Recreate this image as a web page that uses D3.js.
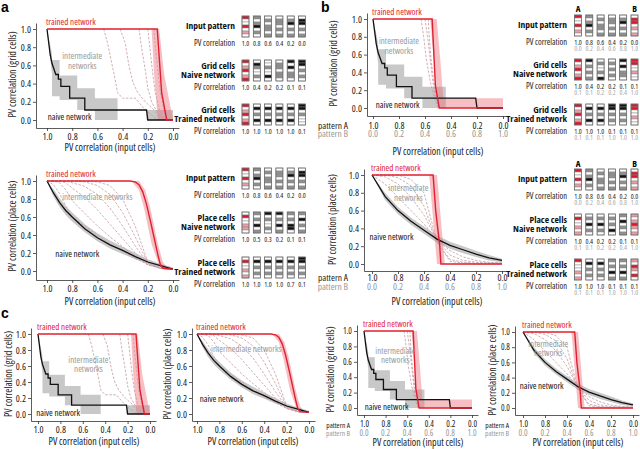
<!DOCTYPE html>
<html><head><meta charset="utf-8">
<script src="https://cdn.jsdelivr.net/npm/d3@7"></script>
<style>
body{margin:0;background:#fff}
svg{display:block;font-family:"Open Sans",sans-serif;font-stretch:75%}
</style></head><body>
<svg id="fig" width="640" height="449"></svg>
<script>
var xTicks = [1.0, 0.8, 0.6, 0.4, 0.2, 0.0];
var yTicks = [0.0, 0.2, 0.4, 0.6, 0.8, 1.0];
var patternBTicks = [0.0, 0.2, 0.4, 0.6, 0.8, 1.0];

// grid cells, naive network (steps) and its shaded range
var gridNaiveX = [1.0, 0.975, 0.96, 0.93, 0.91, 0.91, 0.89, 0.89, 0.82, 0.82, 0.70, 0.70, 0.21, 0.20, 0.0];
var gridNaiveY = [1.0, 0.72, 0.62, 0.50, 0.50, 0.45, 0.45, 0.37, 0.37, 0.24, 0.24, 0.11, 0.11, 0.0, 0.0];
var gridBandX  = [1.0, 0.97, 0.96, 0.96, 0.90, 0.90, 0.76, 0.76, 0.62, 0.62, 0.44, 0.44, 0.21, 0.21, 0.0];
var gridBandLo = [1.0, 0.62, 0.50, 0.26, 0.26, 0.22, 0.22, 0.11, 0.11, 0.0, 0.0, 0.11, 0.11, 0.0, 0.0];
var gridBandHi = [1.0, 0.80, 0.72, 0.66, 0.66, 0.49, 0.49, 0.35, 0.35, 0.24, 0.24, 0.11, 0.11, 0.11, 0.11];

// grid cells, trained network (a)
var gridTrainedX = [1.0, 0.125, 0.09, 0.05, 0.0];
var gridTrainedY = [1.0, 1.0, 0.3, 0.0, 0.0];
var gridTrainedBandY = [1.0, 0.5, 0.0];
var gridTrainedBandL = [0.17, 0.15, 0.12];
var gridTrainedBandR = [0.11, 0.07, 0.0];
// intermediate networks (a, grid)
var gridInterX = [
  [0.55, 0.52, 0.49, 0.46, 0.44, 0.40, 0.30, 0.22, 0.12],
  [0.42, 0.38, 0.35, 0.32, 0.28, 0.22, 0.15, 0.10],
  [0.27, 0.25, 0.22, 0.20, 0.17, 0.13, 0.08],
  [0.20, 0.18, 0.16, 0.14, 0.11, 0.07],
  [0.15, 0.14, 0.12, 0.10, 0.07, 0.04]];
var gridInterY = [
  [1.0, 0.85, 0.65, 0.45, 0.30, 0.24, 0.24, 0.11, 0.0],
  [1.0, 0.85, 0.60, 0.42, 0.30, 0.20, 0.11, 0.0],
  [1.0, 0.80, 0.55, 0.35, 0.20, 0.10, 0.0],
  [1.0, 0.75, 0.50, 0.30, 0.12, 0.0],
  [1.0, 0.80, 0.55, 0.30, 0.10, 0.0]];

// place cells (a)
var placeX = [1.0, 0.95, 0.9, 0.85, 0.8, 0.7, 0.6, 0.5, 0.4, 0.3, 0.2, 0.1, 0.0];
var placeNaiveY = [1.0, 0.87, 0.76, 0.67, 0.60, 0.47, 0.37, 0.29, 0.23, 0.16, 0.10, 0.06, 0.02];
var placeBandLo = [1.0, 0.83, 0.71, 0.62, 0.55, 0.43, 0.33, 0.25, 0.19, 0.13, 0.08, 0.04, 0.01];
var placeBandHi = [1.0, 0.91, 0.81, 0.72, 0.65, 0.52, 0.42, 0.34, 0.27, 0.20, 0.13, 0.08, 0.04];
var placeTrainedX = [1.0, 0.34, 0.30, 0.27, 0.24, 0.21, 0.18, 0.15, 0.12, 0.10, 0.08, 0.0];
var placeTrainedY = [1.0, 1.0, 0.99, 0.96, 0.88, 0.74, 0.56, 0.37, 0.18, 0.07, 0.03, 0.02];
var placeTrainedBandY = [1.0, 0.9, 0.7, 0.5, 0.3, 0.1, 0.02];
var placeTrainedBandL = [0.33, 0.27, 0.23, 0.20, 0.17, 0.12, 0.09];
var placeTrainedBandR = [0.27, 0.22, 0.18, 0.15, 0.12, 0.08, 0.04];
var placeInterY = [
  [1.0, 0.96, 0.86, 0.72, 0.60, 0.50, 0.40, 0.30, 0.22, 0.14, 0.07, 0.03, 0.02],
  [1.0, 1.0, 0.98, 0.90, 0.78, 0.64, 0.50, 0.38, 0.27, 0.16, 0.07, 0.03, 0.02],
  [1.0, 1.0, 1.0, 0.98, 0.92, 0.82, 0.68, 0.52, 0.36, 0.20, 0.07, 0.03, 0.02],
  [1.0, 1.0, 1.0, 1.0, 0.98, 0.94, 0.85, 0.70, 0.50, 0.28, 0.08, 0.03, 0.02],
  [1.0, 1.0, 1.0, 1.0, 1.0, 0.99, 0.95, 0.85, 0.65, 0.38, 0.09, 0.03, 0.02],
  [1.0, 1.0, 1.0, 1.0, 1.0, 1.0, 0.99, 0.95, 0.80, 0.50, 0.10, 0.03, 0.02]];

// pattern A -> B morph (b)
var gridBBandX  = [1.0, 0.97, 0.96, 0.96, 0.90, 0.90, 0.76, 0.76, 0.62, 0.62, 0.44, 0.44, 0.0];
var gridBBandLo = [1.0, 0.62, 0.50, 0.26, 0.26, 0.22, 0.22, 0.11, 0.11, 0.0, 0.0, 0.11, 0.11];
var gridBBandHi = [1.0, 0.80, 0.72, 0.66, 0.66, 0.49, 0.49, 0.35, 0.35, 0.24, 0.24, 0.11, 0.11];
var gridBTrainedX = [1.0, 0.545, 0.52, 0.49, 0.0];
var gridBTrainedY = [1.0, 1.0, 0.25, 0.0, 0.0];
var gridBTrainedBandY = [1.0, 0.5, 0.11, 0.11, 0.0];
var gridBTrainedBandL = [0.56, 0.53, 0.51, 0.51, 0.50];
var gridBTrainedBandR = [0.51, 0.48, 0.46, 0.0, 0.0];
var gridBInterX = [
  [0.63, 0.61, 0.59, 0.56, 0.53, 0.50],
  [0.60, 0.58, 0.56, 0.54, 0.52, 0.49],
  [0.575, 0.565, 0.55, 0.53, 0.51, 0.49]];
var gridBInterY = [
  [1.0, 0.80, 0.55, 0.30, 0.12, 0.0],
  [1.0, 0.80, 0.55, 0.30, 0.12, 0.0],
  [1.0, 0.75, 0.50, 0.28, 0.10, 0.0]];

var placeBX = [1.0, 0.9, 0.8, 0.7, 0.6, 0.5, 0.4, 0.3, 0.2, 0.1, 0.0];
var placeBNaiveY = [1.0, 0.76, 0.60, 0.48, 0.38, 0.28, 0.21, 0.16, 0.11, 0.07, 0.04];
var placeBBandLo = [1.0, 0.72, 0.56, 0.44, 0.34, 0.24, 0.17, 0.12, 0.08, 0.04, 0.02];
var placeBBandHi = [1.0, 0.80, 0.64, 0.52, 0.42, 0.32, 0.25, 0.20, 0.15, 0.10, 0.06];
var placeBTrainedX = [1.0, 0.53, 0.51, 0.48, 0.47, 0.0];
var placeBTrainedY = [1.0, 1.0, 0.6, 0.22, 0.0, 0.0];
var placeBTrainedBandY = [1.0, 0.5, 0.0];
var placeBTrainedBandL = [0.56, 0.53, 0.50];
var placeBTrainedBandR = [0.50, 0.47, 0.44];
var placeBInterY = [
  [1.0, 0.90, 0.75, 0.60, 0.45, 0.27, 0.15, 0.08, 0.04, 0.02, 0.01],
  [1.0, 0.98, 0.90, 0.75, 0.55, 0.27, 0.10, 0.04, 0.02, 0.01, 0.01],
  [1.0, 1.0, 0.97, 0.88, 0.65, 0.25, 0.05, 0.02, 0.01, 0.01, 0.01],
  [1.0, 1.0, 1.0, 0.95, 0.80, 0.25, 0.03, 0.01, 0.0, 0.0, 0.0]];

// activity patterns (r red, p pink, w white, g grey, k black) and PV values
var inputA = ["rwwrwpw","gwgkwgw","wgwggwg","wggwgwg","wgkwgwg","wkkwgwg"];
var gridNaiveBarsA = ["rwprwpr","wkgwwgw","wwgwwkw","wggwggw","kwkwggw","kkwgwgw"];
var gridTrainedBarsA = ["rwprwpr","wkwgwkw","wkwgwkw","wkwgwkw","wkwgwkw","kkwgwww"];
var placeNaiveBarsA = ["wrwwppw","gwgwkwg","kwgwwgw","kwgwkwg","gwgwkkw","gwkwgwg"];
var placeTrainedBarsA = ["wrwwpwp","wkwgwgw","wkwgwgw","wkwgwgw","wkwgwgw","kkwgwgw"];
var inputB = ["rwwrwpw","gwgkwgw","wgwggwg","wggwgwg","wgkwgwg","wrrwpwp"];
var gridNaiveBarsB = ["rwprwpr","kwgwgwg","wgwwgwk","wgwgwgw","kwkwggw","rrwwpww"];
var gridTrainedBarsB = ["rwprwpr","wkwgwkw","wkwgwkw","kkwgwgw","kkwgwgw","rrwwpww"];
var placeNaiveBarsB = ["wrwwpwp","wgwkwgw","wgwkwgw","wgwgwkw","gwkwgwg","pwprpwp"];
var placeTrainedBarsB = ["rwwwpwp","wkwgwgw","wkwgwgw","gwgwkwg","gwgwkwg","pwrpwrw"];

var inputPV = [1.0, 0.8, 0.6, 0.4, 0.2, 0.0];
var inputPVB = [0.0, 0.2, 0.4, 0.6, 0.8, 1.0];
var gridNaivePV = [1.0, 0.4, 0.2, 0.2, 0.1, 0.1];
var gridTrainedPV = [1.0, 1.0, 1.0, 1.0, 1.0, 0.1];
var placeNaivePV = [1.0, 0.5, 0.3, 0.2, 0.1, 0.1];
var placeTrainedPV = [1.0, 1.0, 1.0, 1.0, 0.7, 0.1];
var naivePVA = [1.0, 0.4, 0.2, 0.2, 0.1, 0.1];
var naivePVB = [0.1, 0.1, 0.2, 0.2, 0.4, 1.0];
var trainedPVA = [1.0, 1.0, 1.0, 0.1, 0.1, 0.1];
var trainedPVB = [0.1, 0.1, 0.1, 1.0, 1.0, 1.0];

var red = "#e0202e";
var cellColor = {r: "#d7192b", p: "#ef9aa4", w: "#fff", g: "#8f8f8f", k: "#111"};
var svg = d3.select("#fig");
var f1 = d3.format(".1f");

function zip(a, b) { return a.map(function(v, i) { return [v, b[i]]; }); }

function drawChart(s) {
  var x = d3.scaleLinear().domain([1, 0]).range([s.x0, s.x1]);
  var y = d3.scaleLinear().domain([0, 1]).range([s.yB, s.yT]);
  var g = svg.append("g");
  var line = d3.line().x(function(d) { return x(d[0]); }).y(function(d) { return y(d[1]); });
  var band = d3.area().x(function(d) { return x(d[0]); })
    .y0(function(d) { return y(d[1]); }).y1(function(d) { return y(d[2]); });
  var vband = d3.area().y(function(d) { return y(d[0]); })
    .x0(function(d) { return x(d[1]); }).x1(function(d) { return x(d[2]); });

  g.append("path").datum(s.bx.map(function(v, i) { return [v, s.blo[i], s.bhi[i]]; }))
    .attr("d", band).attr("fill", "#c8c8c8");
  g.append("path").datum(s.ty.map(function(v, i) { return [v, s.tl[i], s.tr[i]]; }))
    .attr("d", vband).attr("fill", "#ee6f7c").attr("opacity", 0.45);
  s.iy.forEach(function(ys, k) {
    var xs = s.ix[k] || s.ix[0];
    g.append("path").datum(zip(xs, ys)).attr("d", line)
      .attr("fill", "none").attr("stroke", "#c49aa2").attr("stroke-width", 0.8)
      .attr("stroke-dasharray", "2.5,1.5");
  });
  g.append("path").datum(zip(s.nx, s.ny)).attr("d", line)
    .attr("fill", "none").attr("stroke", "#111").attr("stroke-width", 1.3);
  g.append("path").datum(zip(s.tx, s.tyy)).attr("d", line)
    .attr("fill", "none").attr("stroke", red).attr("stroke-width", 1.4);

  // axes (offset spines meeting at the corner)
  var xa = d3.scaleLinear().domain([x.invert(s.axX), x.invert(s.x1 + 6)]).range([s.axX, s.x1 + 6]);
  var ya = d3.scaleLinear().domain([y.invert(s.axY), y.invert(s.yT - 6)]).range([s.axY, s.yT - 6]);
  var gx = g.append("g").attr("transform", "translate(0," + s.axY + ")")
    .call(d3.axisBottom(xa).tickValues(xTicks).tickSize(3).tickSizeOuter(0)
      .tickPadding(s.tp === undefined ? 2 : s.tp).tickFormat(f1));
  var gy = g.append("g").attr("transform", "translate(" + s.axX + ",0)")
    .call(d3.axisLeft(ya).tickValues(yTicks).tickSize(3).tickSizeOuter(0)
      .tickPadding(2).tickFormat(f1));
  [gx, gy].forEach(function(a) {
    a.attr("font-family", null).attr("font-size", s.fs || 9.5);
    a.selectAll("path,line").attr("stroke", "#333").attr("stroke-width", 0.8);
    a.selectAll("text").attr("fill", "#222");
  });
  if (s.patB) {
    g.selectAll(".pb").data(patternBTicks).enter().append("text")
      .attr("x", function(d, i) { return x(xTicks[i]); }).attr("y", s.patB)
      .attr("text-anchor", "middle").attr("font-size", s.fs || 9.5).attr("fill", "#999")
      .text(f1);
    g.append("text").attr("x", s.patLX).attr("y", s.patA).attr("text-anchor", "end")
      .attr("font-size", s.pfs).attr("fill", "#222").text("pattern A");
    g.append("text").attr("x", s.patLX).attr("y", s.patB).attr("text-anchor", "end")
      .attr("font-size", s.pfs).attr("fill", "#999").text("pattern B");
  }
  g.append("text").attr("x", (s.x0 + s.x1) / 2).attr("y", s.titleY)
    .attr("text-anchor", "middle").attr("font-size", 10).attr("fill", "#222")
    .text("PV correlation (input cells)");
  g.append("text").attr("transform", "translate(" + s.ylX + "," + (s.yT + s.yB) / 2 + ") rotate(-90)")
    .attr("text-anchor", "middle").attr("dy", "0.35em").attr("font-size", 10).attr("fill", "#222")
    .text(s.ylab);
  g.append("text").attr("x", x(1) - 1).attr("y", y(1) - 4).attr("font-size", 9)
    .attr("fill", red).text("trained network");
  s.inter.forEach(function(t, i) {
    g.append("text").attr("x", x(t[1])).attr("y", y(t[2])).attr("dy", "0.35em")
      .attr("text-anchor", "middle").attr("font-size", 9).attr("fill", "#999").text(t[0]);
  });
  g.append("text").attr("x", x(s.naive[0])).attr("y", y(s.naive[1])).attr("dy", "0.35em")
    .attr("text-anchor", "middle").attr("font-size", 9).attr("fill", "#111").text("naive network");
}

function drawPatterns(p) {
  var g = svg.append("g");
  var bx = d3.scaleLinear().domain([0, 5]).range([p.bx0, p.bx0 + 5 * p.dx]);
  if (p.ab) {
    g.append("text").attr("x", bx(0) + 3.5).attr("y", p.abY).attr("text-anchor", "middle")
      .attr("font-size", 9).attr("font-weight", "bold").text("A");
    g.append("text").attr("x", bx(5) + 3.5).attr("y", p.abY).attr("text-anchor", "middle")
      .attr("font-size", 9).attr("font-weight", "bold").text("B");
  }
  p.rows.forEach(function(r) {
    var t = r.top;
    if (r.lines.length === 1) {
      g.append("text").attr("x", p.lx).attr("y", t + 12.5).attr("text-anchor", "end")
        .attr("font-size", 9.5).attr("font-weight", "bold").attr("fill", "#111").text(r.lines[0]);
    } else {
      r.lines.forEach(function(l, i) {
        g.append("text").attr("x", p.lx).attr("y", t + 8.5 + i * 9.5).attr("text-anchor", "end")
          .attr("font-size", 9.5).attr("font-weight", "bold").attr("fill", "#111").text(l);
      });
    }
    g.append("text").attr("x", p.lx).attr("y", t + 30).attr("text-anchor", "end")
      .attr("font-size", 8.5).attr("fill", "#222").text("PV correlation");
    r.bars.forEach(function(b, i) {
      var cells = b.split("");
      cells.forEach(function(c, j) {
        g.append("rect").attr("x", bx(i)).attr("y", t + j * 3).attr("width", 7).attr("height", 3)
          .attr("fill", cellColor[c]).attr("stroke", "#888").attr("stroke-width", 0.5);
      });
      g.append("rect").attr("x", bx(i)).attr("y", t).attr("width", 7).attr("height", 21)
        .attr("fill", "none").attr("stroke", "#666").attr("stroke-width", 0.7);
    });
    g.selectAll(null).data(r.va).enter().append("text")
      .attr("x", function(d, i) { return bx(i) + 3.5; }).attr("y", t + 30)
      .attr("text-anchor", "middle").attr("font-size", 7).attr("fill", "#222").text(f1);
    if (r.vb) {
      g.selectAll(null).data(r.vb).enter().append("text")
        .attr("x", function(d, i) { return bx(i) + 3.5; }).attr("y", t + 35.5)
        .attr("text-anchor", "middle").attr("font-size", 7).attr("fill", "#aaa").text(f1);
    }
  });
}

var gridA = {bx: gridBandX, blo: gridBandLo, bhi: gridBandHi,
  ty: gridTrainedBandY, tl: gridTrainedBandL, tr: gridTrainedBandR,
  ix: gridInterX, iy: gridInterY, nx: gridNaiveX, ny: gridNaiveY,
  tx: gridTrainedX, tyy: gridTrainedY, ylab: "PV correlation (grid cells)"};
var placeA = {bx: placeX, blo: placeBandLo, bhi: placeBandHi,
  ty: placeTrainedBandY, tl: placeTrainedBandL, tr: placeTrainedBandR,
  ix: [placeX], iy: placeInterY, nx: placeX, ny: placeNaiveY,
  tx: placeTrainedX, tyy: placeTrainedY, ylab: "PV correlation (place cells)"};
var gridB = {bx: gridBBandX, blo: gridBBandLo, bhi: gridBBandHi,
  ty: gridBTrainedBandY, tl: gridBTrainedBandL, tr: gridBTrainedBandR,
  ix: gridBInterX, iy: gridBInterY, nx: gridNaiveX, ny: gridNaiveY,
  tx: gridBTrainedX, tyy: gridBTrainedY, ylab: "PV correlation (grid cells)"};
var placeB = {bx: placeBX, blo: placeBBandLo, bhi: placeBBandHi,
  ty: placeBTrainedBandY, tl: placeBTrainedBandL, tr: placeBTrainedBandR,
  ix: [placeBX], iy: placeBInterY, nx: placeBX, ny: placeBNaiveY,
  tx: placeBTrainedX, tyy: placeBTrainedY, ylab: "PV correlation (place cells)"};

function spec(base, geo) { return Object.assign({}, base, geo); }

// panel a
drawChart(spec(gridA, {x0: 47, x1: 173, yT: 29, yB: 120, axX: 36, axY: 128, titleY: 151, ylX: 12,
  inter: [["intermediate", 0.72, 0.71], ["networks", 0.72, 0.60]], naive: [0.82, 0.03]}));
drawChart(spec(placeA, {x0: 47, x1: 173, yT: 181, yB: 271, axX: 36, axY: 280, titleY: 305, ylX: 12,
  inter: [["intermediate networks", 0.6, 0.82]], naive: [0.76, 0.19]}));
// panel b
drawChart(spec(gridB, {x0: 373, x1: 503, yT: 19, yB: 108, axX: 367, axY: 116, titleY: 155, ylX: 333,
  patA: 128.5, patB: 137, patLX: 348, pfs: 9.5, tp: 3,
  inter: [["intermediate", 0.8, 0.755], ["networks", 0.8, 0.645]], naive: [0.81, 0.03]}));
drawChart(spec(placeB, {x0: 372, x1: 502, yT: 175, yB: 264, axX: 364, axY: 271, titleY: 305, ylX: 332,
  patA: 281, patB: 289.5, patLX: 348, pfs: 9.5, tp: 0,
  inter: [["intermediate", 0.72, 0.855], ["networks", 0.72, 0.745]], naive: [0.85, 0.3]}));
// panel c
drawChart(spec(gridA, {x0: 38, x1: 150, yT: 334, yB: 414, axX: 31, axY: 421, titleY: 445, ylX: 8,
  inter: [["intermediate", 0.55, 0.68], ["networks", 0.55, 0.565]], naive: [0.82, 0.01]}));
drawChart(spec(placeA, {x0: 197, x1: 309, yT: 334, yB: 414, axX: 192, axY: 421, titleY: 445, ylX: 167,
  inter: [["intermediate networks", 0.56, 0.82]], naive: [0.78, 0.19]}));
drawChart(spec(gridB, {x0: 364, x1: 472, yT: 331, yB: 408, axX: 357, axY: 415, titleY: 446, ylX: 330,
  patA: 427.5, patB: 435.5, patLX: 350, pfs: 7.5, fs: 8.5, tp: 3,
  inter: [["intermediate", 0.71, 0.745], ["networks", 0.71, 0.62]], naive: [0.79, 0.01]}));
drawChart(spec(placeB, {x0: 523, x1: 633, yT: 332, yB: 408, axX: 515, axY: 415, titleY: 446, ylX: 492,
  patA: 427.5, patB: 435.5, patLX: 509, pfs: 7.5, fs: 8.5, tp: 3,
  inter: [["intermediate", 0.77, 0.85], ["networks", 0.77, 0.72]], naive: [0.83, 0.29]}));

// activity pattern columns
drawPatterns({lx: 235, bx0: 242, dx: 11.3, rows: [
  {top: 16, lines: ["Input pattern"], bars: inputA, va: inputPV},
  {top: 60, lines: ["Grid cells", "Naive network"], bars: gridNaiveBarsA, va: gridNaivePV},
  {top: 104, lines: ["Grid cells", "Trained network"], bars: gridTrainedBarsA, va: gridTrainedPV}]});
drawPatterns({lx: 235, bx0: 242, dx: 11.3, rows: [
  {top: 168, lines: ["Input pattern"], bars: inputA, va: inputPV},
  {top: 212, lines: ["Place cells", "Naive network"], bars: placeNaiveBarsA, va: placeNaivePV},
  {top: 257, lines: ["Place cells", "Trained network"], bars: placeTrainedBarsA, va: placeTrainedPV}]});
drawPatterns({lx: 567, bx0: 574.5, dx: 11.3, ab: true, abY: 12, rows: [
  {top: 15, lines: ["Input pattern"], bars: inputB, va: inputPV, vb: inputPVB},
  {top: 59, lines: ["Grid cells", "Naive network"], bars: gridNaiveBarsB, va: naivePVA, vb: naivePVB},
  {top: 104, lines: ["Grid cells", "Trained network"], bars: gridTrainedBarsB, va: trainedPVA, vb: trainedPVB}]});
drawPatterns({lx: 567, bx0: 574.5, dx: 11.3, ab: true, abY: 167, rows: [
  {top: 169, lines: ["Input pattern"], bars: inputB, va: inputPV, vb: inputPVB},
  {top: 214, lines: ["Place cells", "Naive network"], bars: placeNaiveBarsB, va: naivePVA, vb: naivePVB},
  {top: 259, lines: ["Place cells", "Trained network"], bars: placeTrainedBarsB, va: trainedPVA, vb: trainedPVB}]});

// panel letters
[["a", 1, 12], ["b", 321, 12], ["c", 1, 318]].forEach(function(l) {
  svg.append("text").attr("x", l[1]).attr("y", l[2]).style("font-family", "'Liberation Sans', Arial, sans-serif")
    .style("font-stretch", "normal").attr("font-size", 14).attr("font-weight", "bold").text(l[0]);
});
</script></body></html>
